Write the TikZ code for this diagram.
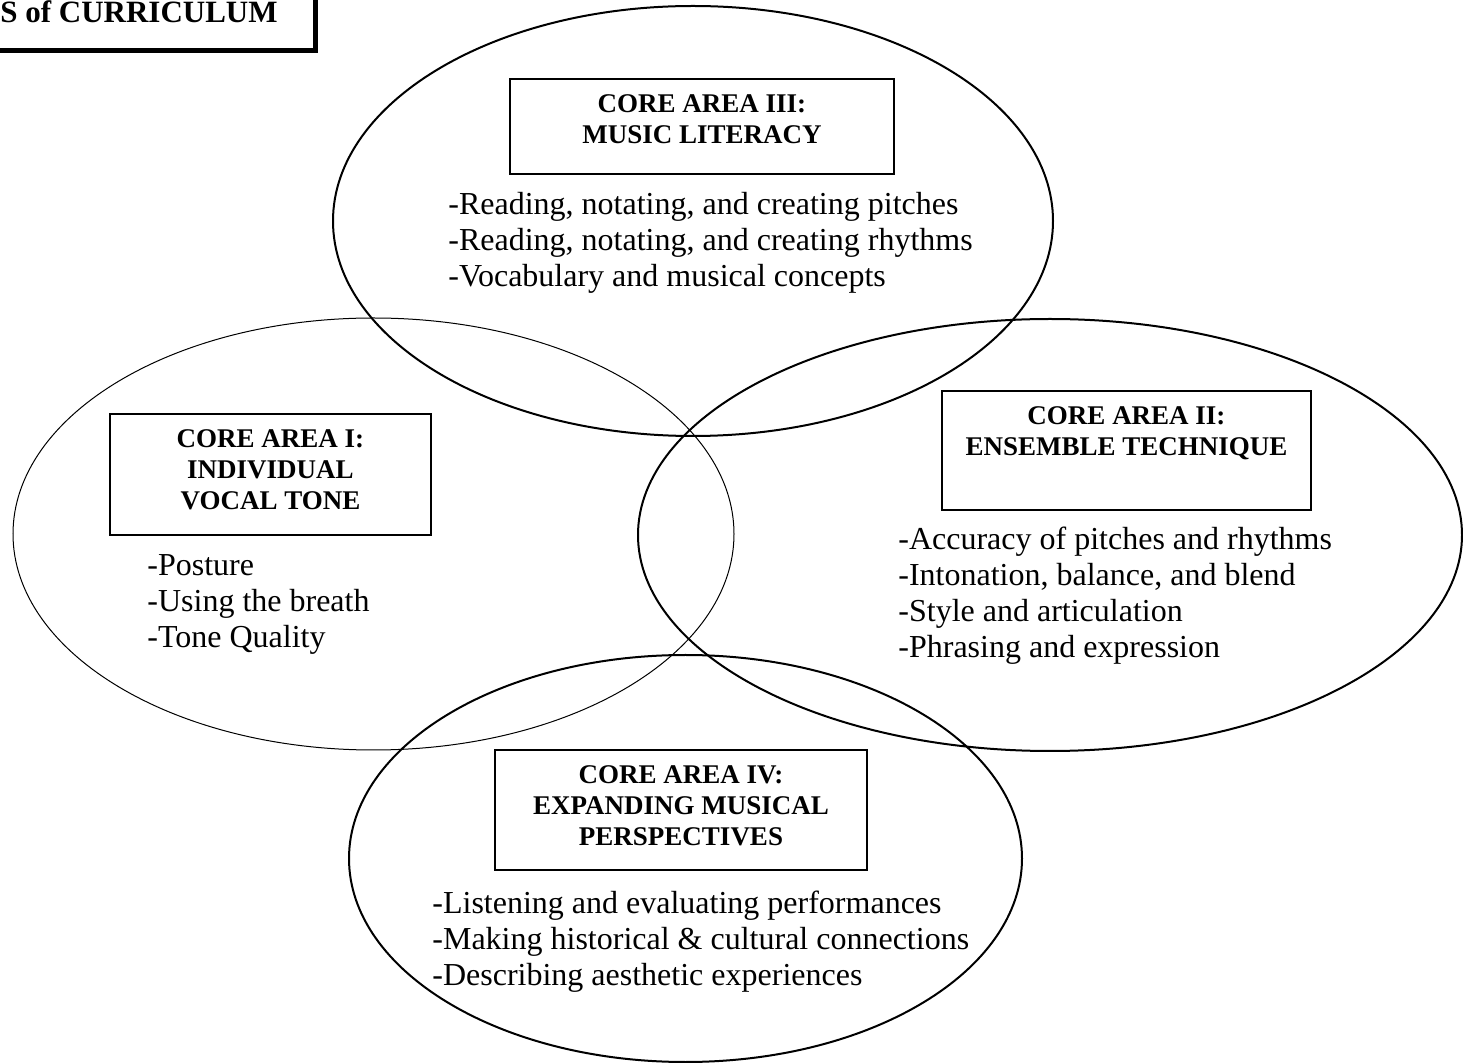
\documentclass[tikz,border=0pt]{standalone}
\usepackage{fontspec}
\setmainfont{Liberation Serif}
\usetikzlibrary{positioning}

\begin{document}
\begin{tikzpicture}[x=0.5pt, y=-0.5pt,
  area/.style={draw, line width=1pt},
  corebox/.style={draw, rectangle, line width=0.75pt, inner sep=0pt},
  coretitle/.style={align=center, inner sep=0pt, font=\bfseries\fontsize{13.5}{15.5}\selectfont},
  skills/.style={align=left, inner sep=0pt, anchor=north west, font=\fontsize{16}{18}\selectfont}]
  \useasboundingbox (0,0) rectangle (1463,1063);
  \clip (0,0) rectangle (1463,1063);
  % heading box, cut by the page edge
  \node[draw, line width=2.5pt, inner sep=0pt, minimum width=190pt, minimum height=60pt, anchor=south east] (curbox) at (318,53) {};
  \node[anchor=base west, inner sep=0pt, font=\bfseries\fontsize{15.5}{18}\selectfont] (curtitle) at (0,23) {S of CURRICULUM};
  % the four areas
  \draw[area, line width=0.5pt] (373.5,534) ellipse [x radius=360.5, y radius=216];
  \draw[area] (1050,535) ellipse [x radius=412, y radius=216];
  \draw[area] (693,221) ellipse [x radius=360, y radius=215];
  \draw[area] (685.5,858.5) ellipse [x radius=336.5, y radius=203.5];
  % boxes
  \node[corebox, minimum width=160.5pt, minimum height=60.5pt] (boxI) at (270.5,474.5) {};
  \node[corebox, minimum width=184.5pt, minimum height=59.5pt] (boxII) at (1126.5,450.5) {};
  \node[corebox, minimum width=192pt, minimum height=47.5pt] (boxIII) at (702,126.5) {};
  \node[corebox, minimum width=186pt, minimum height=60pt] (boxIV) at (681,810) {};
  \node[coretitle, below=8pt of boxI.north] (titleI) {CORE AREA I:\\INDIVIDUAL\\VOCAL TONE};
  \node[coretitle, below=8pt of boxII.north] (titleII) {CORE AREA II:\\ENSEMBLE TECHNIQUE};
  \node[coretitle, below=8pt of boxIII.north] (titleIII) {CORE AREA III:\\MUSIC LITERACY};
  \node[coretitle, below=8pt of boxIV.north] (titleIV) {CORE AREA IV:\\EXPANDING MUSICAL\\PERSPECTIVES};
  % skills
  \node[skills] (skillsI) at (147,554) {-Posture\\-Using the breath\\-Tone Quality};
  \node[skills] (skillsII) at (898,527) {-Accuracy of pitches and rhythms\\-Intonation, balance, and blend\\-Style and articulation\\-Phrasing and expression};
  \node[skills] (skillsIII) at (448,192) {-Reading, notating, and creating pitches\\-Reading, notating, and creating rhythms\\-Vocabulary and musical concepts};
  \node[skills] (skillsIV) at (432,891) {-Listening and evaluating performances\\-Making historical \& cultural connections\\-Describing aesthetic experiences};
\end{tikzpicture}
\end{document}
